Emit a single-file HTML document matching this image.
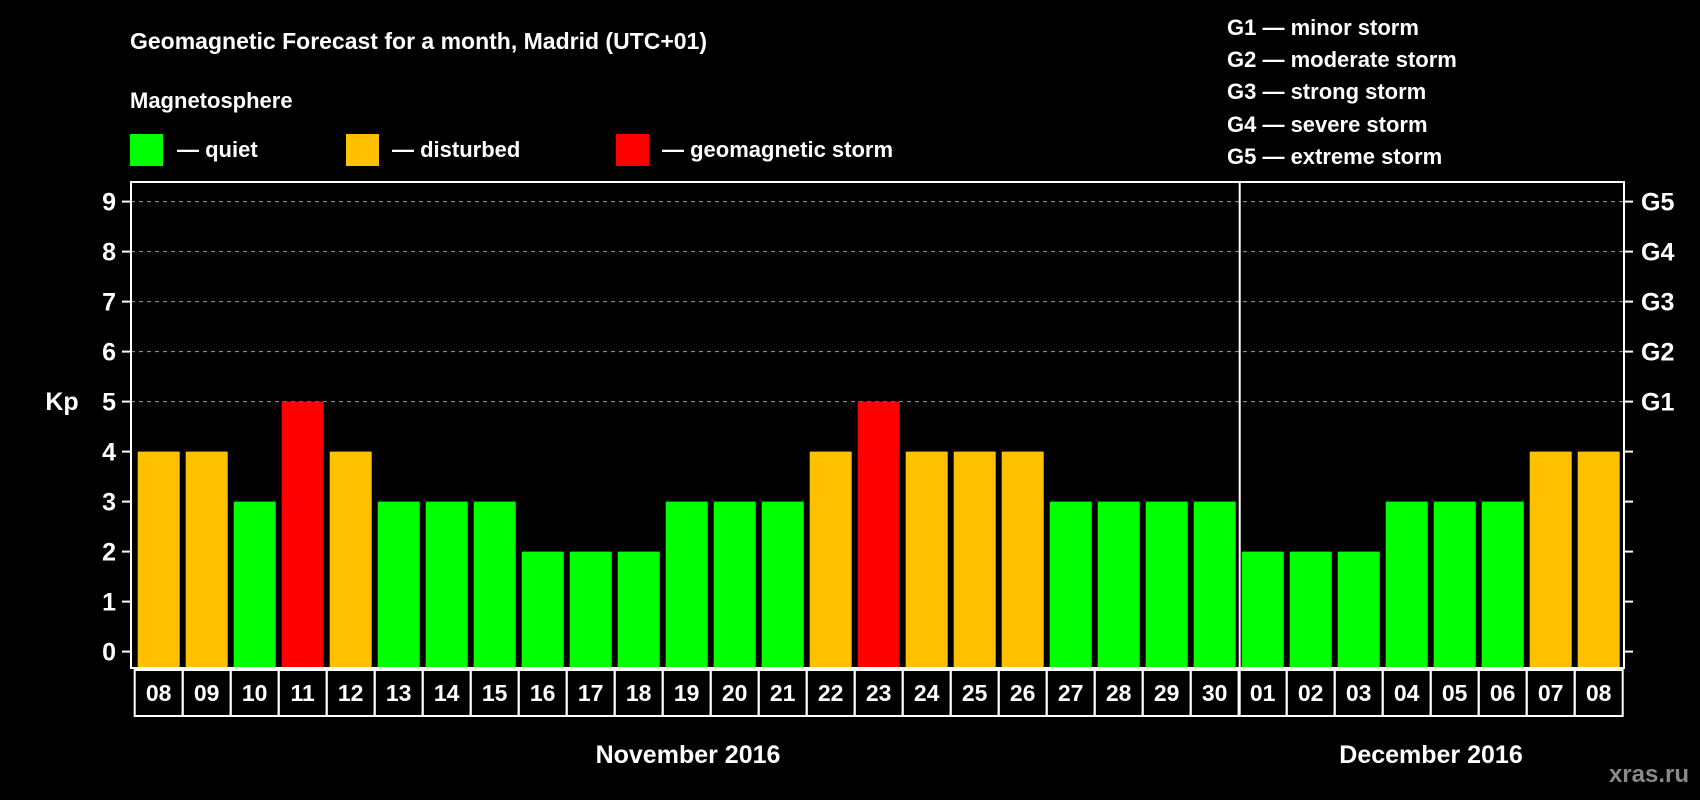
<!DOCTYPE html>
<html><head><meta charset="utf-8"><style>
html,body{margin:0;padding:0;background:#000;}
svg{display:block;font-family:"Liberation Sans",Arial,sans-serif;font-weight:bold;}
</style></head><body>
<svg id="chart" width="1700" height="800" viewBox="0 0 1700 800" xmlns="http://www.w3.org/2000/svg">
<rect width="1700" height="800" fill="#000"/>
<text x="130" y="49" fill="#fff" font-size="23">Geomagnetic Forecast for a month, Madrid (UTC+01)</text>
<text x="130" y="108" fill="#fff" font-size="22">Magnetosphere</text>
<g>
<rect x="130" y="134" width="33" height="32" fill="#00ff00"/>
<text x="177" y="157" fill="#fff" font-size="22">— quiet</text></g>
<g>
<rect x="346" y="134" width="33" height="32" fill="#ffc000"/>
<text x="392" y="157" fill="#fff" font-size="22">— disturbed</text></g>
<g>
<rect x="616" y="134" width="33" height="32" fill="#ff0000"/>
<text x="662" y="157" fill="#fff" font-size="22">— geomagnetic storm</text></g>
<g fill="#fff" font-size="22">
<text x="1227" y="35">G1 — minor storm</text>
<text x="1227" y="67">G2 — moderate storm</text>
<text x="1227" y="99">G3 — strong storm</text>
<text x="1227" y="132">G4 — severe storm</text>
<text x="1227" y="164">G5 — extreme storm</text>
</g>
<g id="grid"></g><g id="bars"></g><g id="axes"></g>
<text x="62" y="410" fill="#fff" font-size="25" text-anchor="middle">Kp</text>
<text x="688" y="763" fill="#fff" font-size="25" text-anchor="middle">November 2016</text>
<text x="1431" y="763" fill="#fff" font-size="25" text-anchor="middle">December 2016</text>
<text x="1689" y="782" fill="#8a8a8a" font-size="24" text-anchor="end">xras.ru</text>
</svg>
<script>
const days = ["08","09","10","11","12","13","14","15","16","17","18","19","20","21","22","23","24","25","26","27","28","29","30","01","02","03","04","05","06","07","08"];
const kpValues = [4,4,3,5,4,3,3,3,2,2,2,3,3,3,4,5,4,4,4,3,3,3,3,2,2,2,3,3,3,4,4];
const yTicks = [0,1,2,3,4,5,6,7,8,9];
const gLabels = ["G1","G2","G3","G4","G5"];
const gLevels = [5,6,7,8,9];
const monthSplitIndex = 23;

const NS = "http://www.w3.org/2000/svg";
const L = 131, R = 1624, T = 182, B = 668;
const slotW = 48, firstSlot = 134.7, barPad = 3, barW = 42;
function xs(i){ return firstSlot + i*slotW; }
function ys(v){ return 651.6 - 50*v; }
function color(v){ return v>=5 ? "#ff0000" : (v>=4 ? "#ffc000" : "#00ff00"); }
function mk(tag, attrs, parent){ const e=document.createElementNS(NS,tag); for(const k in attrs) e.setAttribute(k, attrs[k]); parent.appendChild(e); return e; }

const grid = document.getElementById("grid"), bars = document.getElementById("bars"), axes = document.getElementById("axes");
gLevels.forEach((g, k) => {
  const ln = mk("line", {x1:L, x2:R, y1:ys(g), y2:ys(g), stroke:"#9a9a9a", "stroke-width":1, "stroke-dasharray":"4,4"}, grid);
  
  
  const tk = mk("line", {x1:R, x2:R+9, y1:ys(g), y2:ys(g), stroke:"#fff", "stroke-width":2}, axes);
  
  
  const t = mk("text", {x:R+17, y:ys(g)+9, fill:"#fff", "font-size":25}, axes);
  t.textContent = gLabels[k];
  
  
});
[1,2,3,4].concat([0]).forEach(v => {
  const tk = mk("line", {x1:R, x2:R+9, y1:ys(v), y2:ys(v), stroke:"#fff", "stroke-width":2}, axes);
  
  
});
yTicks.forEach(v => {
  const tk = mk("line", {x1:L-9, x2:L, y1:ys(v), y2:ys(v), stroke:"#fff", "stroke-width":2}, axes);
  
  
  const t = mk("text", {x:116, y:ys(v)+9, fill:"#fff", "font-size":25, "text-anchor":"end"}, axes);
  t.textContent = v;
  
  
});
kpValues.forEach((v, i) => {
  const r = mk("rect", {x:xs(i)+barPad, y:ys(v), width:barW, height:B-ys(v), fill:color(v)}, bars);
  
  
  const bx = mk("rect", {x:xs(i), y:B+2, width:slotW, height:46, fill:"none", stroke:"#fff", "stroke-width":2}, axes);
  
  
  const t = mk("text", {x:xs(i)+slotW/2, y:B+33, fill:"#fff", "font-size":23, "text-anchor":"middle"}, axes);
  t.textContent = days[i];
  
  
});
const frame = mk("rect", {x:L, y:T, width:R-L, height:B-T, fill:"none", stroke:"#fff", "stroke-width":2}, axes);


const dv = mk("line", {x1:xs(monthSplitIndex)+1, x2:xs(monthSplitIndex)+1, y1:T, y2:B+48, stroke:"#fff", "stroke-width":2}, axes);


</script>
</body></html>
